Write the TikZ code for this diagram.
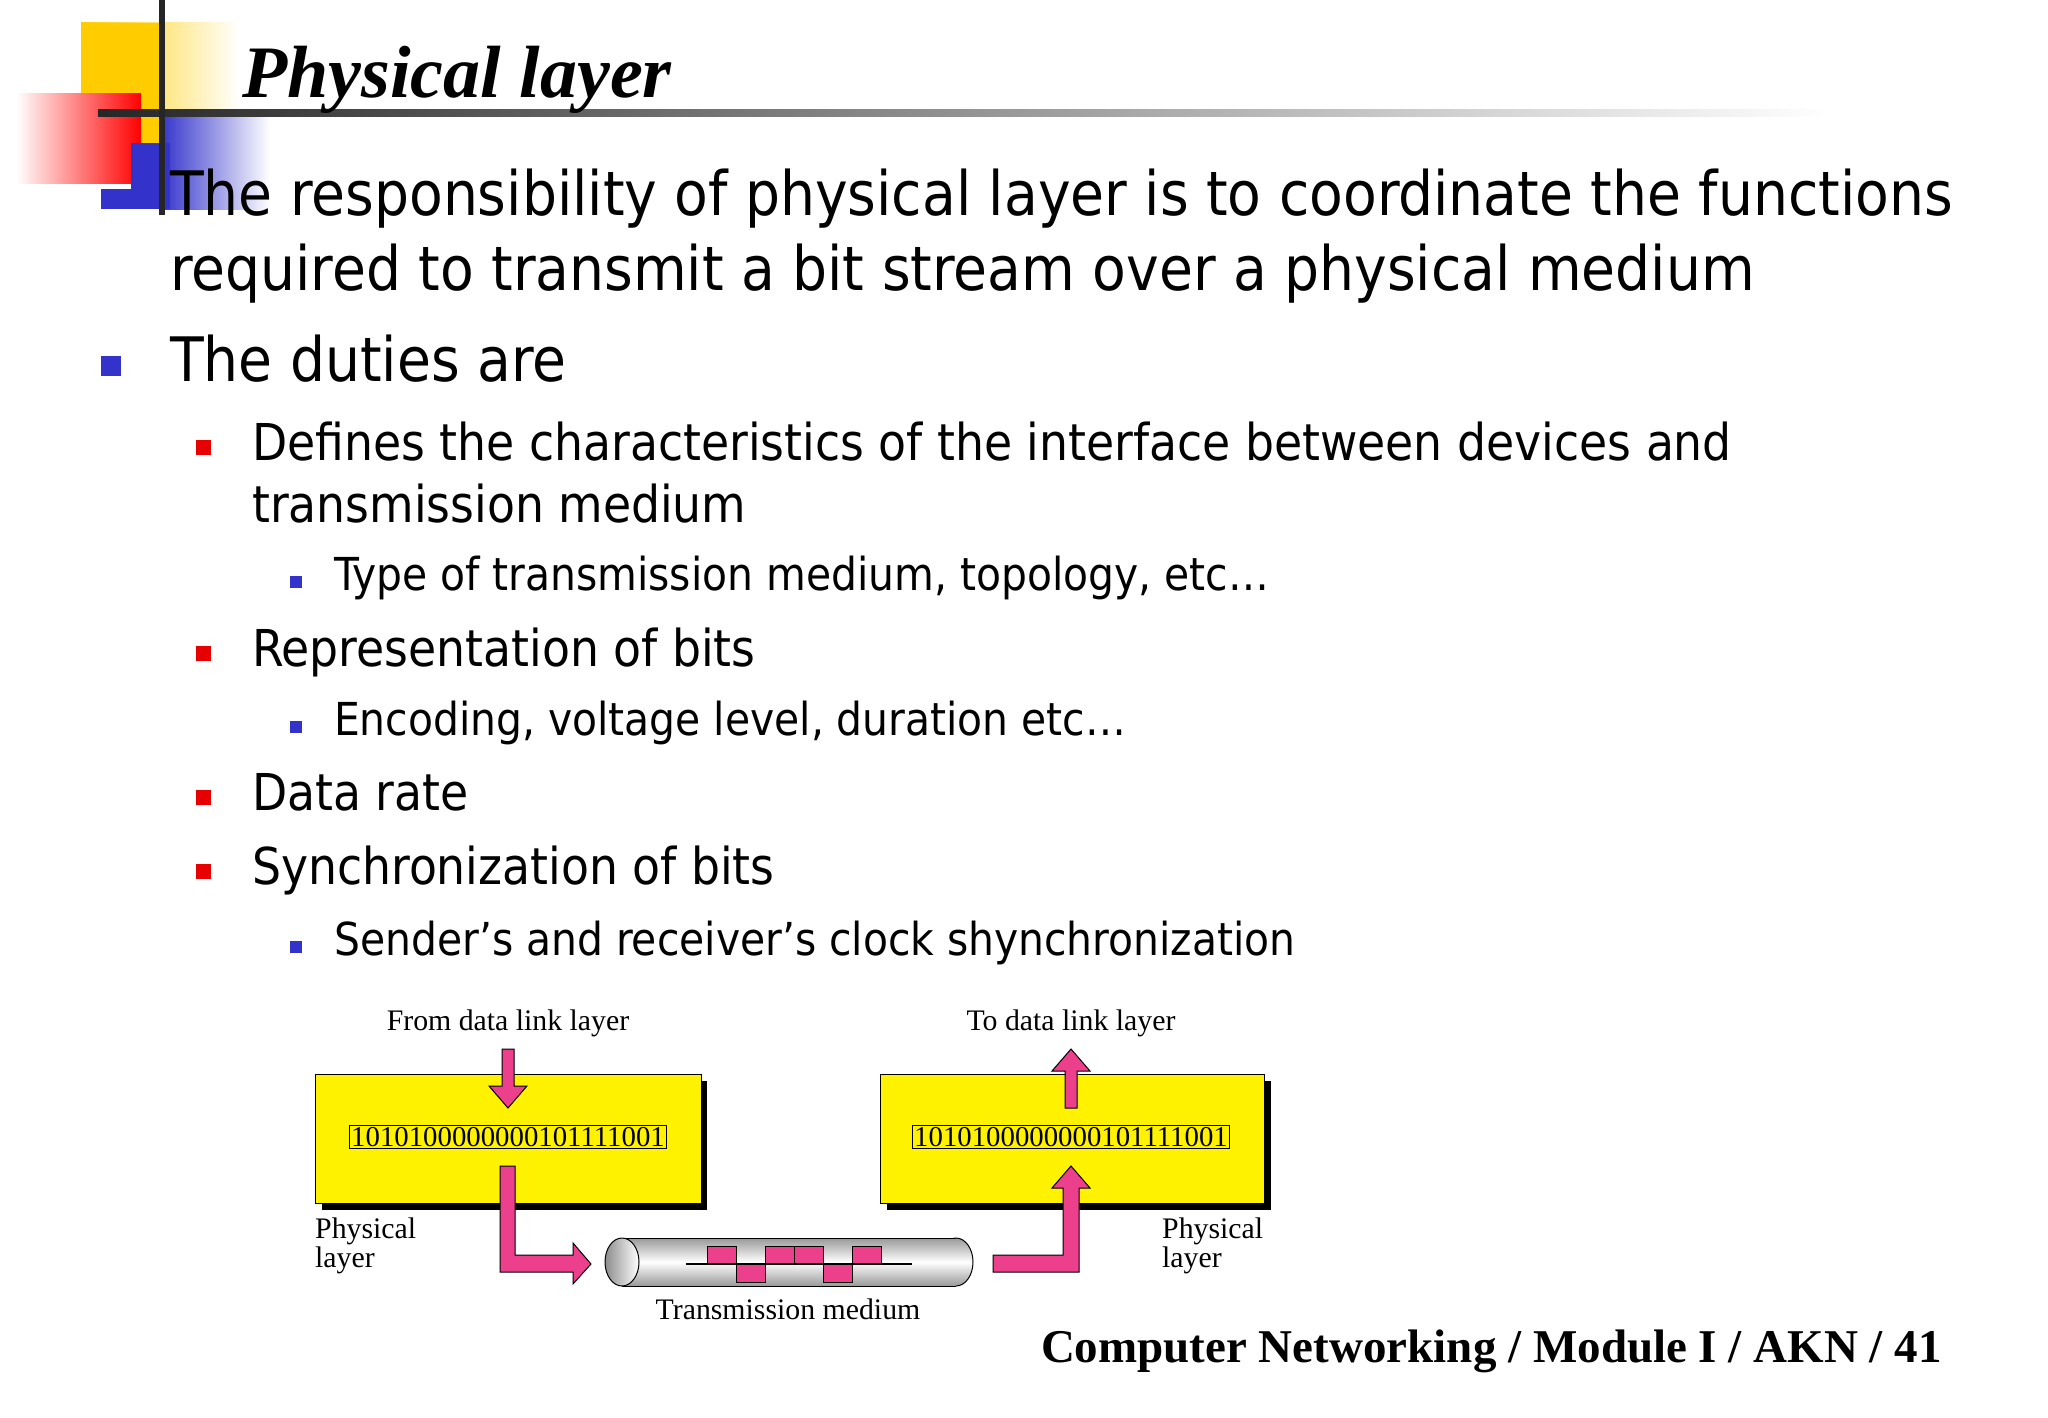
\documentclass[tikz,border=0pt]{standalone}
\usepackage{fontspec}
\setmainfont{Liberation Serif}
\newfontfamily\bodyf{DejaVu Sans Condensed}
\definecolor{dyel}{RGB}{255,204,0}
\definecolor{dblu}{RGB}{51,51,204}
\definecolor{dred}{RGB}{230,0,0}
\definecolor{dpink}{RGB}{236,64,140}
\begin{document}
\begin{tikzpicture}[x=1pt,y=-1pt,
  blt/.style={fill=dblu},
  rbt/.style={fill=dred},
  lone/.style={anchor=base west,inner sep=0pt,font=\bodyf\fontsize{61.3}{64}\selectfont},
  ltwo/.style={anchor=base west,inner sep=0pt,font=\bodyf\fontsize{50.8}{54}\selectfont},
  lthree/.style={anchor=base west,inner sep=0pt,font=\bodyf\fontsize{45.4}{48}\selectfont},
  dtxt/.style={inner sep=0pt,font=\fontsize{29.8}{32}\selectfont},
  ybox/.style={fill=yellow,draw=black,line width=1pt,minimum width=386pt,minimum height=129pt,inner sep=0pt},
  bits/.style={draw=black,line width=1pt,fill=yellow,inner sep=2pt,font=\fontsize{28.8}{30}\selectfont},
  parrow/.style={fill=dpink,draw=black,line width=1pt,line join=miter}]
\useasboundingbox (0,0) rectangle (2048,1418);
\fill[white] (0,0) rectangle (2048,1418);
% decorations
\shade[left color=dyel,right color=white] (81,23) rectangle (240,143);
\fill[dyel] (81,23) rectangle (160,143);
\shade[left color=white,right color=red] (16,94) rectangle (141,183);
\shade[left color=dblu,right color=white] (160,115) rectangle (270,209);
\fill[dblu] (131,143) rectangle (170,209);
\fill[dblu] (101,189) rectangle (131,209);
\shade[left color=black!85,right color=white] (98,110) rectangle (1830,117);
\fill[black!85] (159,0) rectangle (165,215);
% title
\node[anchor=base west,inner sep=0pt,font=\fontsize{74}{80}\selectfont\bfseries\itshape] (title) at (242,98) {Physical layer};
% bullets
\fill[blt] (101,189) rectangle (121,209);
\node[lone] (l1) at (170,215) {The responsibility of physical layer is to coordinate the functions};
\node[lone] (l2) at (170,290) {required to transmit a bit stream over a physical medium};
\fill[blt] (101,356) rectangle (121,376);
\node[lone] (l3) at (170,381) {The duties are};
\fill[rbt] (196,440) rectangle (211,455);
\node[ltwo] (a1) at (252,460) {Defines the characteristics of the interface between devices and};
\node[ltwo] (a2) at (252,522) {transmission medium};
\fill[blt] (290,576) rectangle (302,588);
\node[lthree] (b1) at (334,590) {Type of transmission medium, topology, etc…};
\fill[rbt] (196,646) rectangle (211,661);
\node[ltwo] (a3) at (252,666) {Representation of bits};
\fill[blt] (290,721) rectangle (302,733);
\node[lthree] (b2) at (334,735) {Encoding, voltage level, duration etc…};
\fill[rbt] (196,790) rectangle (211,805);
\node[ltwo] (a4) at (252,810) {Data rate};
\fill[rbt] (196,864) rectangle (211,879);
\node[ltwo] (a5) at (252,884) {Synchronization of bits};
\fill[blt] (290,941) rectangle (302,953);
\node[lthree] (b3) at (334,955) {Sender’s and receiver’s clock shynchronization};
% diagram boxes
\fill[black] (322,1081) rectangle (707,1210);
\node[ybox,anchor=north west] (L) at (315,1074) {};
\fill[black] (887,1081) rectangle (1271,1210);
\node[ybox,anchor=north west,minimum width=384pt] (R) at (880,1074) {};
\node[bits] (LB) at (508,1137) {1010100000000101111001};
\node[bits] (RB) at (1071,1137) {1010100000000101111001};
\node[dtxt,anchor=base] (from) at (508,1030) {From data link layer};
\node[dtxt,anchor=base] (to) at (1071,1030) {To data link layer};
\node[dtxt,anchor=base west] (pl) at (315,1238) {Physical};
\node[dtxt,anchor=base west] (pl2) at (315,1267) {layer};
\node[dtxt,anchor=base west] (pr) at (1162,1238) {Physical};
\node[dtxt,anchor=base west] (pr2) at (1162,1267) {layer};
\node[dtxt,anchor=base] (tm) at (788,1319) {Transmission medium};
% arrows
\draw[parrow] (502,1049) -- (514,1049) -- (514,1086) -- (527,1086) -- (508,1108) -- (489,1086) -- (502,1086) -- cycle;
\draw[parrow] (1065,1108) -- (1077,1108) -- (1077,1071) -- (1090,1071) -- (1071,1049) -- (1052,1071) -- (1065,1071) -- cycle;
\draw[parrow] (500,1166) -- (515,1166) -- (515,1255) -- (573,1255) -- (573,1243) -- (591,1264) -- (573,1284) -- (573,1272) -- (500,1272) -- cycle;
\draw[parrow] (993,1255) -- (1063,1255) -- (1063,1188) -- (1052,1188) -- (1071,1166) -- (1090,1188) -- (1079,1188) -- (1079,1272) -- (993,1272) -- cycle;
% cylinder
\shade[top color=gray!80,bottom color=gray!80,middle color=white,draw=black,line width=1pt] (956,1262) ellipse [x radius=17pt,y radius=24pt];
\shade[top color=gray!80,bottom color=gray!80,middle color=white] (622,1238) rectangle (956,1286);
\draw[line width=1pt] (622,1238) -- (956,1238) (622,1286) -- (956,1286);
\shade[left color=gray!90,right color=white,draw=black,line width=1pt] (622,1262) ellipse [x radius=17pt,y radius=24pt];
\foreach \x/\u in {707/1,736/0,765/1,794/1,823/0,852/1}{
  \ifnum\u=1 \draw[parrow] (\x,1246) rectangle ++(29,18);
  \else \draw[parrow] (\x,1264) rectangle ++(29,18); \fi}
\draw[line width=1.5pt] (686,1264) -- (912,1264);
% footer
\node[anchor=base east,inner sep=0pt,font=\fontsize{47}{50}\selectfont\bfseries] (foot) at (1942,1362) {Computer Networking / Module I / AKN / 41};
\end{tikzpicture}
\end{document}
